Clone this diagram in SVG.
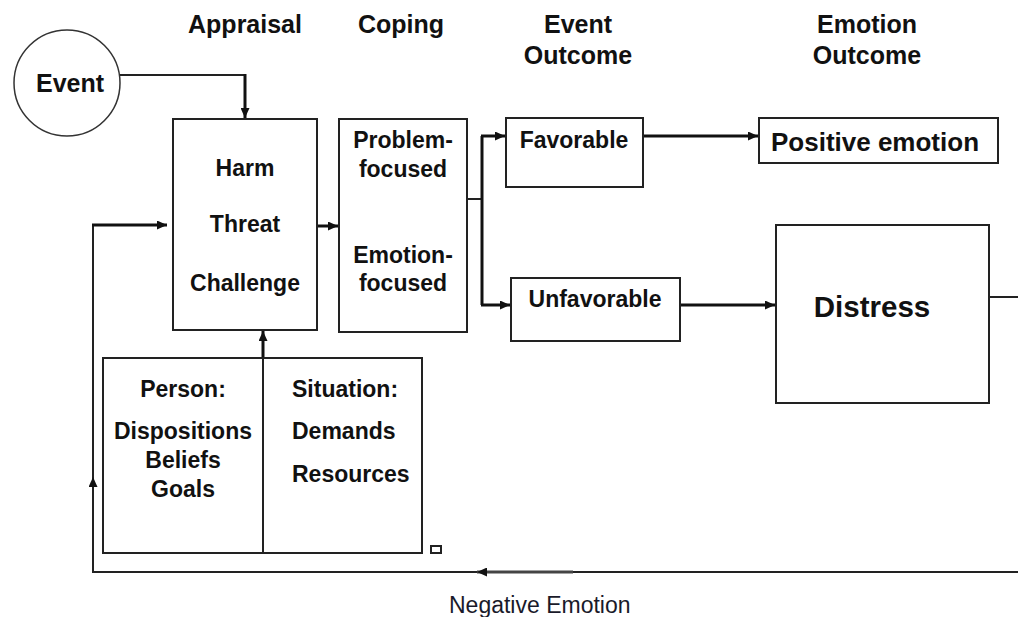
<svg xmlns="http://www.w3.org/2000/svg" width="1018" height="617" viewBox="0 0 1018 617">
<defs>
<marker id="ah" markerUnits="userSpaceOnUse" markerWidth="11" markerHeight="9" refX="10" refY="4.5" orient="auto">
<path d="M0,0 L10,4.5 L0,9 z" fill="#111"/>
</marker>
<style>
.box{fill:#fff;stroke:#222;stroke-width:2}
.t{font-family:"Liberation Sans",Arial,sans-serif;font-weight:bold;font-size:23px;fill:#111;text-anchor:middle}
.h{font-family:"Liberation Sans",Arial,sans-serif;font-weight:bold;font-size:25px;fill:#111;text-anchor:middle}
.thin{fill:none;stroke:#222;stroke-width:2}
.thick{fill:none;stroke:#111;stroke-width:3}
</style>
</defs>
<rect width="1018" height="617" fill="#fff"/>

<g id="headers">
<text class="h" x="245" y="33">Appraisal</text>
<text class="h" x="401" y="33">Coping</text>
<text class="h" x="578" y="33">Event</text>
<text class="h" x="578" y="64">Outcome</text>
<text class="h" x="867" y="33">Emotion</text>
<text class="h" x="867" y="64">Outcome</text>
</g>

<g id="connectors">
<path class="thin" d="M120,75 H245"/>
<path class="thick" d="M245,74 V118" marker-end="url(#ah)"/>
<path class="thick" d="M317,226 H338" marker-end="url(#ah)"/>
<path class="thin" d="M464,199 H482"/>
<path class="thick" d="M482,136 V305"/>
<path class="thick" d="M481,136 H505" marker-end="url(#ah)"/>
<path class="thick" d="M481,305 H510" marker-end="url(#ah)"/>
<path class="thick" d="M642,136 H758" marker-end="url(#ah)"/>
<path class="thick" d="M680,305 H775" marker-end="url(#ah)"/>
<path class="thin" d="M989,297 H1018"/>
<path class="thin" d="M1018,572 H93 V225"/>
<path class="thick" d="M92,225 H167" marker-end="url(#ah)"/>
<path class="thin" d="M93,486 V477" marker-end="url(#ah)"/>
<path d="M573,572 H477" stroke="#444" stroke-width="3" fill="none" marker-end="url(#ah)"/>
<path class="thick" d="M263,358 V331" marker-end="url(#ah)"/>
<text x="449" y="613" font-family="Liberation Sans, Arial, sans-serif" font-size="23" fill="#1a1a2a">Negative Emotion</text>
</g>

<g id="event">
<circle cx="67" cy="83" r="53" fill="#fff" stroke="#333" stroke-width="1.5"/>
<text class="h" x="70" y="92">Event</text>
</g>

<g id="appraisal">
<rect class="box" x="173" y="119" width="144" height="211"/>
<text class="t" x="245" y="176">Harm</text>
<text class="t" x="245" y="232">Threat</text>
<text class="t" x="245" y="291">Challenge</text>
</g>

<g id="coping">
<rect class="box" x="339" y="119" width="128" height="213"/>
<text class="t" x="403" y="148">Problem-</text>
<text class="t" x="403" y="177">focused</text>
<text class="t" x="403" y="263">Emotion-</text>
<text class="t" x="403" y="291">focused</text>
</g>

<g id="favorable">
<rect class="box" x="506" y="118" width="137" height="69"/>
<text class="t" x="574" y="148">Favorable</text>
</g>

<g id="unfavorable">
<rect class="box" x="511" y="278" width="169" height="63"/>
<text class="t" x="595" y="307">Unfavorable</text>
</g>

<g id="positive">
<rect class="box" x="759" y="118" width="239" height="45"/>
<text class="t" x="875" y="151" style="font-size:26px">Positive emotion</text>
</g>

<g id="distress">
<rect class="box" x="776" y="225" width="213" height="178"/>
<text class="t" x="872" y="317" style="font-size:29.5px">Distress</text>
</g>

<g id="person-situation">
<rect class="box" x="103" y="358" width="319" height="195"/>
<line x1="263" y1="358" x2="263" y2="553" stroke="#222" stroke-width="2"/>
<text class="t" x="183" y="397">Person:</text>
<text class="t" x="183" y="439">Dispositions</text>
<text class="t" x="183" y="468">Beliefs</text>
<text class="t" x="183" y="497">Goals</text>
<text class="t" x="292" y="397" style="text-anchor:start">Situation:</text>
<text class="t" x="292" y="439" style="text-anchor:start">Demands</text>
<text class="t" x="292" y="482" style="text-anchor:start">Resources</text>
<rect x="431" y="546" width="10" height="7" fill="#fff" stroke="#222" stroke-width="2"/>
</g>
</svg>
